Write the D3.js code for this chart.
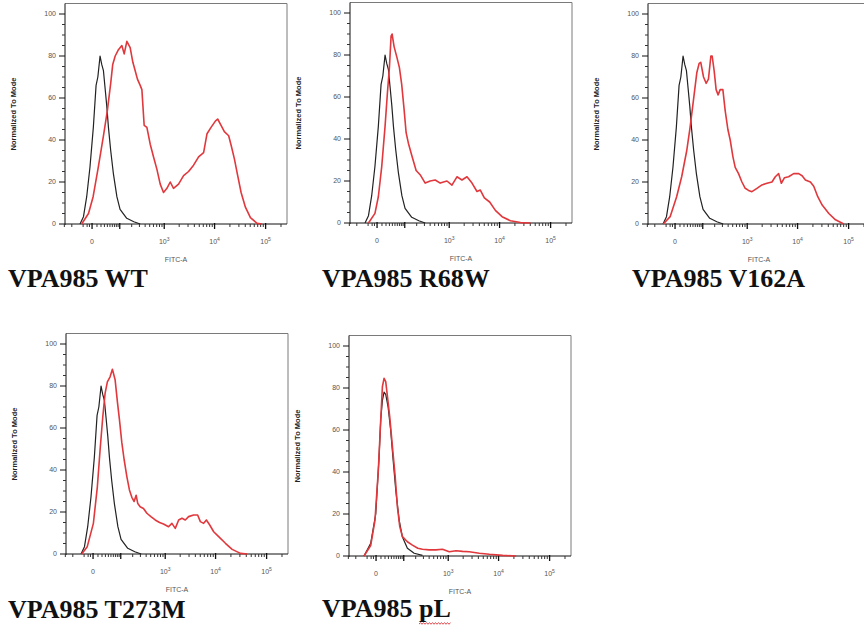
<!DOCTYPE html>
<html><head><meta charset="utf-8">
<script src="https://cdn.jsdelivr.net/npm/d3@7"></script>
<style>body{margin:0;background:#fff}svg{display:block}</style>
</head><body>
<svg id="c" width="864" height="632"></svg>
<script>
// ---------- data (FITC-A value, % of mode) ----------
const panelTitles = ["VPA985 WT", "VPA985 R68W", "VPA985 V162A", "VPA985 T273M", "VPA985 pL"];
const yTickValues = [0, 20, 40, 60, 80, 100];
const yMinorValues = [5,10,15,25,30,35,45,50,55,65,70,75,85,90,95];
const xMajorValues = [0, 100, 1000, 10000, 100000];
const xLabelValues = [0, 1000, 10000, 100000];
const xLabelExponents = ["", "3", "4", "5"];
const xMinorValues = [-100,-60,-20,-10,-5,10,20,30,40,50,60,70,80,90,200,300,400,500,600,700,800,900,
  2000,3000,4000,5000,6000,7000,8000,9000,20000,30000,40000,50000,60000,70000,80000,90000,200000];
const xAxisTitle = "FITC-A";
const yAxisTitle = "Normalized To Mode";

const controlCounts = [[-29,0],[-19,3.5],[-11,13],[-4,27],[2.4,46],[8,66],[12,70],[17.5,80],[22,76],[27,73],
  [32,65],[38,56],[44,46],[53,35],[65,24],[83,13],[102,7],[152,2.7],[224,1.1],[312,0]];
const controlPL = [[-29,0],[-11,6],[-0.6,20],[5.6,46],[9.5,65],[13.3,74],[17.5,78],[22,77],[29,71],[37.5,60],
  [46.5,46],[58,31],[74,17],[92,9],[125,3.7],[184,1.3],[286,0.3]];

const wtCounts = [[-24,0],[-7,5],[2,13],[13,27],[27,42],[40,54],[53,67],[62,76],[74,80],[92,83],[114,85],[131,81],
  [153,87],[184,84],[213,77],[241,73],[271,69],[312,66],[340,64],[381,47],[436,46],[513,38],[601,32],[708,26],
  [828,19],[967,15],[1134,17],[1323,20],[1541,17],[1942,19],[2446,23],[3075,25],[3861,28],[4852,32],[6089,34],
  [7109,43],[8524,46],[10366,49],[11502,50],[13408,47],[15568,44],[18913,42],[21368,37],[24482,31],[28424,23],
  [33128,15],[40240,8],[50455,3],[68220,0.3],[85470,0]];
const r68wCounts = [[-19,0],[-4,4.6],[2.4,12.5],[9.5,27],[17.5,46],[24,62],[30,74],[35.5,89],[39,90],[46.5,84],
  [58,79],[70,74],[82,66],[96,54],[109,43],[125,38],[153,32],[194,25],[240,23],[312,19],[401,20],[513,20.5],
  [653,19],[898,20],[1135,18],[1433,22],[1806,20.5],[2275,22],[2860,19],[3595,15],[4180,15.7],[5020,12],
  [6387,10],[8274,6],[11210,3],[16330,1.1],[25700,0.2],[40400,0]];
const v162aCounts = [[-28,0],[-10,3.5],[3,13],[14,22.5],[28,35],[39,46],[52,59],[67,72],[79,76.5],[88,77],
  [105,70],[123,67],[141,69],[162,80],[174,80],[194,73],[216,64],[240,61.5],[267,64],[307,64],[345,54],[395,45],
  [443,40],[506,32],[565,27],[663,24],[779,20],[910,17],[1063,16],[1245,15.4],[1572,17],[1977,18.6],[2488,19.4],
  [3128,20],[3645,22.5],[4240,24],[4793,19.4],[5500,22],[6670,22.5],[8390,24],[10530,24],[12280,23],[14260,21],
  [17870,20],[20770,18],[24900,13],[30400,9],[41000,5],[55400,2],[80700,0]];
const t273mCounts = [[-27,0],[-12,3.5],[0.6,14.6],[8.6,32],[15,49.5],[22,65],[29,76.5],[36.5,82],[46.5,84.4],
  [56,88],[68.5,83],[81,72],[92,64],[107,53],[123,45],[144,37],[167,30.5],[191,27],[216,25],[240,28],[262,24],
  [296,22.5],[350,21.7],[415,19.4],[505,17.8],[622,16.2],[765,15],[922,14.3],[1168,13],[1365,14.6],[1594,12.2],
  [1865,16.2],[2170,17],[2527,16.2],[2940,17.8],[3697,18.6],[4438,18.6],[5020,15.4],[5830,14.6],[6600,16.2],
  [7680,13.8],[9180,10.6],[11510,8.3],[15610,5.1],[21150,2.2],[30800,0.3],[41700,0]];
const pLCounts = [[-29,0],[-11,5],[-2,17],[4.4,41],[9.5,65],[13.3,80.6],[17.5,84.6],[22,83],[27,76],[34.5,66],
  [44,52],[55,38],[65,23.5],[77,14],[92,9.2],[125,6.8],[167,5.2],[224,3.7],[286,3.2],[401,2.9],[557,2.9],
  [765,3.2],[1049,2],[1433,2.5],[1946,2.2],[2645,2],[4180,1.3],[6600,0.8],[12050,0.3],[22130,0]];

const sampleSeries = [wtCounts, r68wCounts, v162aCounts, t273mCounts, pLCounts];
const controlSeries = [controlCounts, controlCounts, controlCounts, controlCounts, controlPL];

// ---------- layout ----------
const layout = [
  {left: 65,  y0: 224, tx: 8,   ty: 287},
  {left: 350, y0: 223, tx: 322, ty: 287},
  {left: 648, y0: 224, tx: 632, ty: 287},
  {left: 66,  y0: 554, tx: 8,   ty: 618},
  {left: 349, y0: 556, tx: 322, ty: 617}
];
const plotW = 222, plotH = 220.5;
const xDomain = [-96, 262144], yDomain = [0, 105];

const svg = d3.select("#c");
const tickFont = "'Liberation Sans', Arial, sans-serif";

layout.forEach((L, i) => {
  const g = svg.append("g");
  const x = d3.scaleSymlog().constant(40.3).domain(xDomain).range([L.left, L.left + plotW]);
  const y = d3.scaleLinear().domain(yDomain).range([L.y0, L.y0 - plotH]);
  const top = y(yDomain[1]), right = x(xDomain[1]);

  // frame (top/right)
  g.append("path").attr("d", `M${L.left},${top}H${right}V${L.y0}`)
    .attr("fill", "none").attr("stroke", "#7a7a7a").attr("stroke-width", 1);

  // y axis
  const ya = g.append("g").attr("transform", `translate(${L.left},0)`);
  ya.append("line").attr("x1", 0).attr("x2", 0).attr("y1", top).attr("y2", L.y0 + 1).attr("stroke", "#111");
  ya.selectAll(".ymaj").data(yTickValues).join("line")
    .attr("x1", -6).attr("x2", 0).attr("y1", d => y(d)).attr("y2", d => y(d)).attr("stroke", "#111");
  ya.selectAll(".ymin").data(yMinorValues).join("line").attr("class","ymin")
    .attr("x1", -3).attr("x2", 0).attr("y1", d => y(d)).attr("y2", d => y(d)).attr("stroke", "#333");
  ya.selectAll("text").data(yTickValues).join("text")
    .attr("x", -9).attr("y", d => y(d)).attr("dy", "0.35em").attr("text-anchor", "end")
    .attr("font-family", tickFont).attr("font-size", 7).attr("fill", "#555").text(d => d);

  // x axis
  const xa = g.append("g");
  xa.append("line").attr("x1", L.left).attr("x2", right).attr("y1", L.y0).attr("y2", L.y0).attr("stroke", "#111");
  xa.selectAll(".xmaj").data(xMajorValues).join("line").attr("class","xmaj")
    .attr("x1", d => x(d)).attr("x2", d => x(d)).attr("y1", L.y0 - 1).attr("y2", L.y0 + 5).attr("stroke", "#111").attr("stroke-width", 1.3);
  xa.selectAll(".xmin").data(xMinorValues).join("line").attr("class","xmin")
    .attr("x1", d => x(d)).attr("x2", d => x(d)).attr("y1", L.y0).attr("y2", L.y0 + 3).attr("stroke", "#333");
  const xl = xa.selectAll(".xl").data(xLabelValues).join("text").attr("class","xl")
    .attr("x", d => x(d)).attr("y", L.y0 + 20).attr("text-anchor", "middle")
    .attr("font-family", tickFont).attr("font-size", 7).attr("fill", "#555");
  xl.each(function(d, k) {
    const t = d3.select(this);
    if (xLabelExponents[k] === "") { t.text("0"); return; }
    t.append("tspan").text("10");
    t.append("tspan").attr("dy", -3).attr("font-size", 5).text(xLabelExponents[k]);
  });
  xa.append("text").attr("x", L.left + plotW / 2).attr("y", L.y0 + 38).attr("text-anchor", "middle")
    .attr("font-family", tickFont).attr("font-size", 7).attr("fill", "#555").text(xAxisTitle);

  // y title
  g.append("text").attr("transform", `translate(${L.left - 49},${L.y0 - 110}) rotate(-90)`)
    .attr("text-anchor", "middle").attr("font-family", tickFont).attr("font-weight", "bold")
    .attr("font-size", 7.5).attr("fill", "#222").text(yAxisTitle);

  // curves
  const line = d3.line().x(d => x(d[0])).y(d => y(d[1]));
  g.append("path").datum(controlSeries[i]).attr("d", line)
    .attr("fill", "none").attr("stroke", "#222").attr("stroke-width", 1.2).attr("stroke-linejoin", "round");
  g.append("path").datum(sampleSeries[i]).attr("d", line)
    .attr("fill", "none").attr("stroke", "#e0383c").attr("stroke-width", 1.6).attr("stroke-linejoin", "round");

  // panel title
  const title = svg.append("text").attr("x", L.tx).attr("y", L.ty)
    .attr("font-family", "'Liberation Serif','Times New Roman',serif").attr("font-weight", "bold")
    .attr("font-size", 26).attr("fill", "#111").text(panelTitles[i]);
  if (panelTitles[i].endsWith("pL")) {
    const node = title.node();
    const n = panelTitles[i].length;
    const x0 = node.getStartPositionOfChar(n - 2).x, x1 = node.getEndPositionOfChar(n - 1).x;
    let d = `M${x0},${L.ty + 7}`;
    let up = true;
    for (let xx = x0 + 1.5; xx <= x1; xx += 1.5) { d += `L${xx},${L.ty + (up ? 5.8 : 7.2)}`; up = !up; }
    svg.append("path").attr("d", d).attr("fill", "none").attr("stroke", "#d9282e").attr("stroke-width", 0.9);
  }
});
</script>
</body></html>
